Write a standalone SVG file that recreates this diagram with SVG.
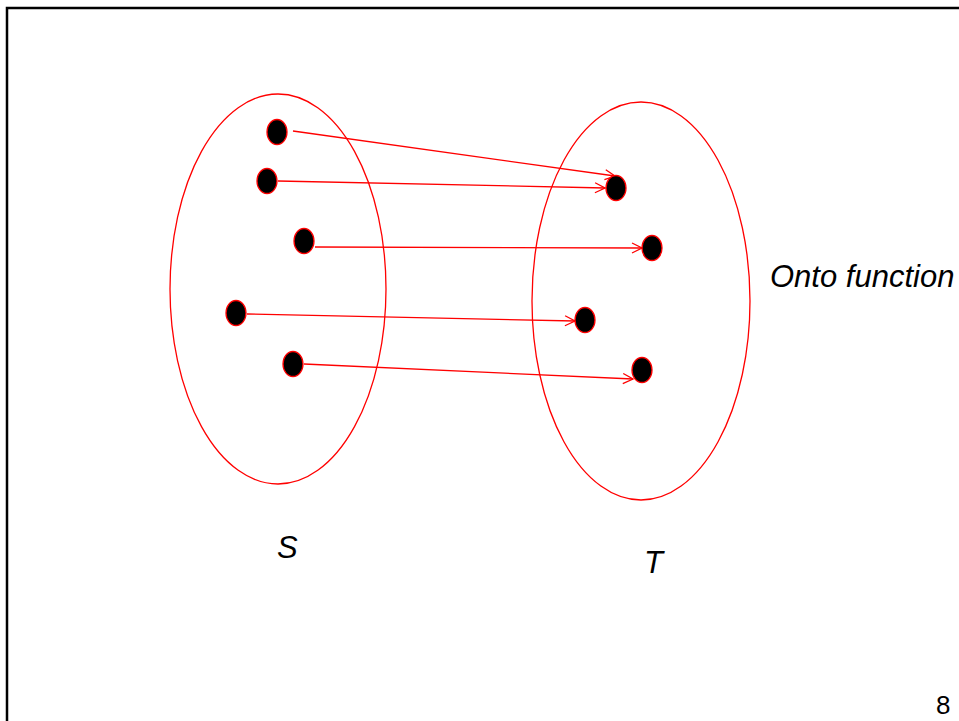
<svg xmlns="http://www.w3.org/2000/svg" width="959" height="721" viewBox="0 0 959 721">
<defs>
<marker id="ah" markerWidth="12" markerHeight="12" refX="11" refY="6" orient="auto" markerUnits="userSpaceOnUse">
<path d="M1,1 L11,6 L1,11" fill="none" stroke="#ff0000" stroke-width="1.3"/>
</marker>
</defs>
<style>
.set{fill:none;stroke:#ff0000;stroke-width:1.3}
.dot{fill:#000;stroke:#ff0000;stroke-width:1.3}
.edge{stroke:#ff0000;stroke-width:1.3;fill:none;marker-end:url(#ah)}
.lbl{font-family:"Liberation Sans",Arial,sans-serif;font-size:31px;font-style:italic;fill:#000}
.pg{font-family:"Liberation Sans",Arial,sans-serif;font-size:26px;fill:#000}
</style>
<rect width="959" height="721" fill="#fff"/>
<rect x="7" y="8" width="1000" height="800" fill="none" stroke="#000" stroke-width="2.5"/>
<g id="setS"><ellipse class="set" cx="278" cy="289" rx="108" ry="195"/></g>
<g id="setT"><ellipse class="set" cx="641" cy="301" rx="109" ry="199"/></g>
<g id="connectors">
<line class="edge" x1="293" y1="131" x2="615" y2="176"/>
<line class="edge" x1="278" y1="181" x2="605" y2="188"/>
<line class="edge" x1="315" y1="247" x2="642" y2="248"/>
<line class="edge" x1="247" y1="314" x2="575" y2="321"/>
<line class="edge" x1="304" y1="364" x2="633" y2="379"/>
</g>
<g id="s1"><ellipse class="dot" cx="277" cy="132" rx="10" ry="12.5"/></g>
<g id="s2"><ellipse class="dot" cx="267" cy="181" rx="10" ry="12.5"/></g>
<g id="s3"><ellipse class="dot" cx="304" cy="241" rx="10" ry="12.5"/></g>
<g id="s4"><ellipse class="dot" cx="236" cy="313" rx="10" ry="12.5"/></g>
<g id="s5"><ellipse class="dot" cx="293" cy="364" rx="10" ry="12.5"/></g>
<g id="t1"><ellipse class="dot" cx="616" cy="188" rx="10" ry="12.5"/></g>
<g id="t2"><ellipse class="dot" cx="652" cy="248" rx="10" ry="12.5"/></g>
<g id="t3"><ellipse class="dot" cx="585" cy="320" rx="10" ry="12.5"/></g>
<g id="t4"><ellipse class="dot" cx="642" cy="370" rx="10" ry="12.5"/></g>
<text class="lbl" x="770" y="287">Onto function</text>
<text class="lbl" x="277" y="558">S</text>
<text class="lbl" x="644" y="573">T</text>
<text class="pg" x="936" y="714">8</text>
</svg>
